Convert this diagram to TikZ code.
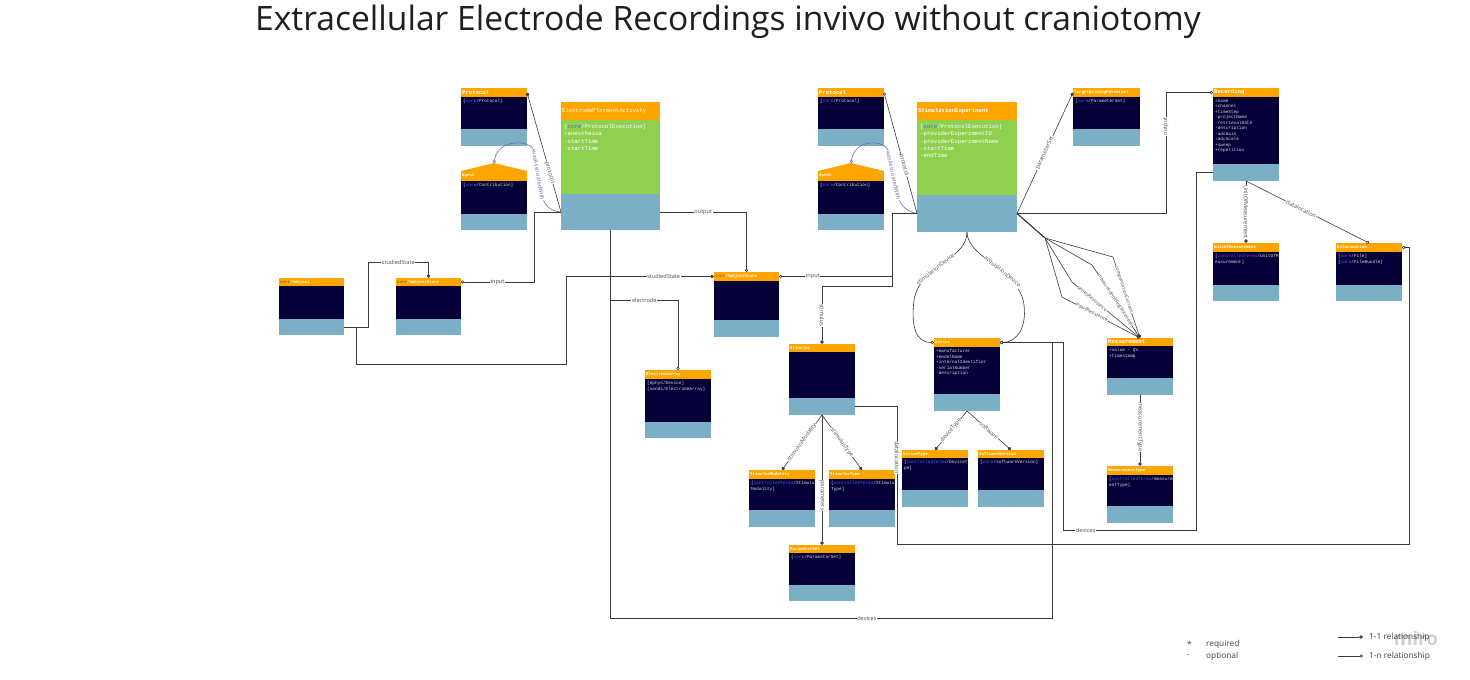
\documentclass[tikz,border=0pt]{standalone}
\usepackage{fontspec}
\setmainfont{Open Sans}
\setmonofont{Liberation Mono}
\usetikzlibrary{arrows.meta}
\definecolor{mirohead}{HTML}{FFA500}
\definecolor{mirobody}{HTML}{050038}
\definecolor{mirofoot}{HTML}{7BAFC6}
\definecolor{mirogreen}{HTML}{8FD14F}
\definecolor{miroline}{HTML}{3A3A3A}
\definecolor{miroassoc}{HTML}{6A6CB8}
\definecolor{mirolink}{HTML}{4A63E7}
\definecolor{mirocore}{HTML}{A8661A}
\tikzset{hdr/.style={fill=mirohead, inner sep=0pt, outer sep=0pt}}
\tikzset{bdy/.style={fill=mirobody, inner sep=0pt, outer sep=0pt}}
\tikzset{act/.style={fill=mirogreen, inner sep=0pt, outer sep=0pt}}
\tikzset{ftr/.style={fill=mirofoot, inner sep=0pt, outer sep=0pt}}
\tikzset{hdrtxt/.style={text=white, inner sep=0pt, font=\ttfamily\bfseries\fontsize{4.1}{4.5}\selectfont}}
\tikzset{acthdr/.style={text=white, inner sep=0pt, font=\ttfamily\fontsize{5.6}{6}\selectfont}}
\tikzset{bdytxt/.style={text=white!85!mirobody, inner sep=0pt, align=left, font=\ttfamily\fontsize{4.4}{5.5}\selectfont}}
\tikzset{acttxt/.style={text=white, inner sep=0pt, align=left, font=\ttfamily\fontsize{5.7}{7.4}\selectfont}}
\tikzset{rel/.style={draw=miroline, line width=0.6pt}}
\tikzset{one/.style={rel, -{Diamond[length=4pt,width=3.6pt]}}}
\tikzset{many/.style={rel, -{Circle[open,fill=white,length=3.2pt]}}}
\tikzset{assoc/.style={draw=miroassoc, line width=0.6pt, -{Circle[open,fill=white,length=3.2pt]}}}
\tikzset{lbl/.style={fill=white, inner sep=0.6pt, text=black!70, font=\fontsize{5.6}{6}\selectfont}}
\tikzset{fanlbl/.style={lbl, inner sep=0.3pt, font=\fontsize{4.8}{5}\selectfont}}
\tikzset{legtxt/.style={inner sep=0pt, text=black!75, font=\fontsize{8.3}{9}\selectfont}}
\newcommand{\hbig}{\fontsize{5.6}{6}\selectfont}
\newcommand{\lk}[1]{\textcolor{mirolink}{#1}}
\newcommand{\umlbox}[9]{%
  \node[hdr, anchor=north west, minimum width=#4pt, minimum height=#5pt] (#1h) at (#2,#3) {};
  \node[bdy, anchor=north west, minimum width=#4pt, minimum height=#6pt] (#1b) at (#1h.south west) {};
  \node[ftr, anchor=north west, minimum width=#4pt, minimum height=#7pt] (#1f) at (#1b.south west) {};
  \node[hdrtxt, anchor=west] (#1t) at ([xshift=1pt]#1h.west) {#8};
  \node[bdytxt, anchor=north west] (#1x) at ([xshift=2pt,yshift=-2.5pt]#1b.north west) {#9};
}
\newcommand{\actbox}[9]{%
  \node[hdr, anchor=north west, minimum width=#4pt, minimum height=#5pt] (#1h) at (#2,#3) {};
  \node[act, anchor=north west, minimum width=#4pt, minimum height=#6pt] (#1b) at (#1h.south west) {};
  \node[ftr, anchor=north west, minimum width=#4pt, minimum height=#7pt] (#1f) at (#1b.south west) {};
  \node[acthdr, anchor=west] (#1t) at ([xshift=1pt]#1h.west) {#8};
  \node[acttxt, anchor=north west] (#1x) at ([xshift=3pt,yshift=-4pt]#1b.north west) {#9};
}

\begin{document}
\begin{tikzpicture}[x=1pt, y=-1pt]
        \useasboundingbox (0,0) rectangle (1470,680);
        \node[text=black!88, font=\fontsize{33.6}{36}\selectfont] (title) at (728,22)
        {Extracellular Electrode Recordings invivo without craniotomy};

        \umlbox{Prot1}{461}{88}{66}{9}{32}{17}{{\hbig Protocol}}{[\lk{core}/Protocol]}
        \umlbox{Ag1}{461}{171}{66}{10}{33}{16}{Agent}{[\lk{core}/Contribution]}
        \coordinate (Ag1p) at ([yshift=8pt]Ag1h.north);
        \fill[mirohead] (Ag1h.north west) -- (Ag1p) -- (Ag1h.north east) -- cycle;
        \actbox{EPA}{561}{102}{99}{18}{74}{36}{ElectrodePlacmentActivity}
        {[\lk{core}/ProtocolExecution]\\+anestheisa\\-startTime\\-startTime}
        \umlbox{Subj}{279}{278}{65}{8}{33}{16}{{\color{mirocore}core}/Subject}{}
        \umlbox{SS1}{396}{278}{65}{8}{33}{16}{{\color{mirocore}core}/SubjectState}{}
        \umlbox{SS2}{714}{272}{65}{9}{39}{17}{{\color{mirocore}core}/SubjectState}{}
        \umlbox{ElArr}{645}{370}{66}{9}{43}{16}{ElectrodeArray}{[ephys/Device]\\{}[sands/ElectrodeArray]}

        \umlbox{Prot2}{818}{88}{66}{9}{32}{17}{{\hbig Protocol}}{[\lk{core}/Protocol]}
        \umlbox{Ag2}{818}{171}{66}{10}{33}{16}{Agent}{[\lk{core}/Contribution]}
        \coordinate (Ag2p) at ([yshift=8pt]Ag2h.north);
        \fill[mirohead] (Ag2h.north west) -- (Ag2p) -- (Ag2h.north east) -- cycle;
        \actbox{StE}{917}{102}{100}{18}{75}{37}{\bfseries StimulationExperiment}
        {[\lk{core}/ProtocolExecution]\\-providerExperimentID\\-providerExperimentName\\-startTime\\-endTime}
        \umlbox{THP}{1073}{88}{67}{9}{32}{17}{TargetHoldingPotential}{[\lk{core}/ParameterSet]}
        \umlbox{Rec}{1213}{88}{66}{9}{67}{17}{{\hbig Recording}}
        {+name\\+channel\\+timeStep\\-projectName\\-retrievalDate\\-description\\-adcGain\\-adcScale\\+sweep\\+repetition}
        \umlbox{UoM}{1213}{243}{66}{9}{33}{16}{UnitOfMeasurement}{[\lk{controlledTerms}/UnitOfM\\easurement]}
        \umlbox{DL}{1336}{243}{66}{9}{33}{16}{DataLocation}{[\lk{core}/File]\\{}[\lk{core}/FileBundle]}

        \umlbox{Stim}{789}{344}{66}{8}{46}{17}{Stimulus}{}
        \umlbox{Dev}{934}{338}{66}{9}{47}{17}{Device}
        {+manufacturer\\+modelName\\+internalIdentifier\\-serialNumber\\-description}
        \umlbox{Meas}{1107}{338}{66}{8}{32}{17}{{\hbig Measurement}}{+value - QV\\+timestamp}
        \umlbox{SMod}{749}{470}{66}{9}{31}{17}{StimulusModality}{[\lk{controlledTerms}/Stimulus\\Modality]}
        \umlbox{STyp}{829}{470}{66}{9}{31}{17}{StimulusType}{[\lk{controlledTerms}/Stimulus\\Type]}
        \umlbox{PSet}{789}{545}{66}{8}{32}{16}{ParameterSet}{[\lk{core}/ParameterSet]}
        \umlbox{DTyp}{902}{450}{66}{8}{32}{17}{DeviceType}{[\lk{controlledTerms}/DeviceTy\\pe]}
        \umlbox{SVer}{978}{450}{66}{8}{32}{17}{SoftwareVersion}{[\lk{core}/softwareVersion]}
        \umlbox{MTyp}{1107}{466}{66}{9}{31}{17}{MeasurementType}{[\lk{controlledTerms}/measurem\\entType]}

        \draw[one] (EPAf.west) -- (Prot1h.east) node[lbl, sloped, pos=0.33] {protocol};
        \draw[assoc] (EPAf.west) .. controls (548,211) and (544,203) .. (542,196)
          -- (534,150) node[lbl, sloped, pos=0.45, text=miroassoc] {wasAssociatedWith}
          .. controls (530,140) and (498,138) .. (Ag1p);
        \draw[many] (EPAf.west) -- ++(-27,0) |- (SS1h.east) node[lbl, pos=0.75] {input};
        \draw[many] (EPAf.east) -| (SS2h.north) node[lbl, pos=0.25] {output};
        \draw[many] (EPAf.south) -- ++(0,70) -| (ElArrh.north) node[lbl, pos=0.25] {electrode};
        \draw[many] (EPAf.south) -- ++(0,388) -- ++(442,0) node[lbl, pos=0.58] {devices} |- (Devh.east);
        \draw[one] (Subjf.east) -- ++(24,0) -- ++(0,-65) -| (SS1h.north) node[lbl, pos=0.25] {studiedState};
        \draw[one] (Subjf.east) -- ++(12,0) -- ++(0,37) -- ++(210,0) |- (SS2h.west) node[lbl, pos=0.83] {studiedState};

        \draw[many] (StEf.west) -- (Prot2h.east) node[lbl, sloped, pos=0.4] {protocol};
        \draw[assoc] (StEf.west) .. controls (904,211) and (900,203) .. (898,196)
          -- (888,150) node[lbl, sloped, pos=0.45, text=miroassoc] {wasAssociatedWith}
          .. controls (884,140) and (855,138) .. (Ag2p);
        \draw[many] (StEf.west) -- ++(-25,0) |- (SS2h.east) node[lbl, pos=0.85] {input};
        \draw[one] (StEf.west) -- ++(-25,0) -- ++(0,73) -| (Stimh.north) node[lbl, sloped, pos=0.75] {stimulus};
        \draw[one] (StEf.east) -- (THPh.west) node[lbl, sloped, pos=0.5] {parameterSet};
        \draw[many] (StEf.east) -- ++(149,0) |- (Rech.west) node[lbl, sloped, pos=0.36] {output};
        \draw[one] (StEf.east) -- (1045,238) -- (1113,257) -- (Meash.north) node[fanlbl, sloped, pos=0.4] {compensationCurrent};
        \draw[one] (StEf.east) -- (1045,238) -- (1092,265) -- (Meash.north) node[fanlbl, sloped, pos=0.48] {measuredHoldingPotential};
        \draw[one] (StEf.east) -- (1045,238) -- (1072,282) -- (Meash.north) node[fanlbl, sloped, pos=0.3] {seriesResistance};
        \draw[one] (StEf.east) -- (1045,238) -- (1062,297) -- (Meash.north) node[fanlbl, sloped, pos=0.38] {inputResistance};
        \draw[many] (StEf.south) .. controls (967,260) and (920,265) .. (914,300) node[lbl, sloped, pos=0.6] {stimulationDevice}
          .. controls (911,325) and (915,342.5) .. (Devh.west);
        \draw[many] (StEf.south) .. controls (967,258) and (1020,270) .. (1024,305) node[lbl, sloped, pos=0.6] {acquisitionDevice}
          .. controls (1027,330) and (1015,342.5) .. (Devh.east);

        \draw[one] (Recf.south) -- (UoMh.north) node[lbl, sloped, pos=0.5] {UnitOfMeasurement};
        \draw[many] (Recf.south) -- (DLh.north) node[lbl, sloped, pos=0.45] {datalocation};
        \draw[many] (Recf.west) -- ++(-17,0) -- ++(0,358) -- ++(-133,0) node[lbl, pos=0.83] {devices} |- (Devh.east);
        \draw[many] (Stimf.east) -- ++(42,0) -- ++(0,138) node[lbl, sloped, pos=0.37] {datalocation} -- ++(512,0) |- (DLh.east);
        \draw[one] (Stimf.south) -- (SModh.north) node[lbl, sloped, pos=0.5] {stimulusModality};
        \draw[one] (Stimf.south) -- (STyph.north) node[lbl, sloped, pos=0.5] {stimulusType};
        \draw[one] (Stimf.south) -- (PSeth.north) node[lbl, sloped, pos=0.62] {parameters};
        \draw[one] (Devf.south) -- (DTyph.north) node[lbl, sloped, pos=0.5] {deviceType};
        \draw[one] (Devf.south) -- (SVerh.north) node[lbl, sloped, pos=0.5] {software};
        \draw[one] (Measf.south) -- (MTyph.north) node[lbl, sloped, pos=0.45] {measurementType};

        \node[text=black!18, font=\bfseries\fontsize{19}{19}\selectfont] (wm) at (1416,638) {miro};
        \node[legtxt, anchor=west] (req1) at (1187,644) {*};
        \node[legtxt, anchor=west] (req2) at (1206,644) {required};
        \node[legtxt, anchor=west] (opt1) at (1187,656) {-};
        \node[legtxt, anchor=west] (opt2) at (1206,656) {optional};
        \coordinate (l1a) at (1338,637);
        \coordinate (l1b) at (1363,637);
        \coordinate (l2a) at (1338,656);
        \coordinate (l2b) at (1363,656);
        \draw[one] (l1a) -- (l1b);
        \draw[many] (l2a) -- (l2b);
        \node[legtxt, anchor=west] (l1t) at (1369,637) {1-1 relationship};
        \node[legtxt, anchor=west] (l2t) at (1369,656) {1-n relationship};
\end{tikzpicture}
\end{document}
